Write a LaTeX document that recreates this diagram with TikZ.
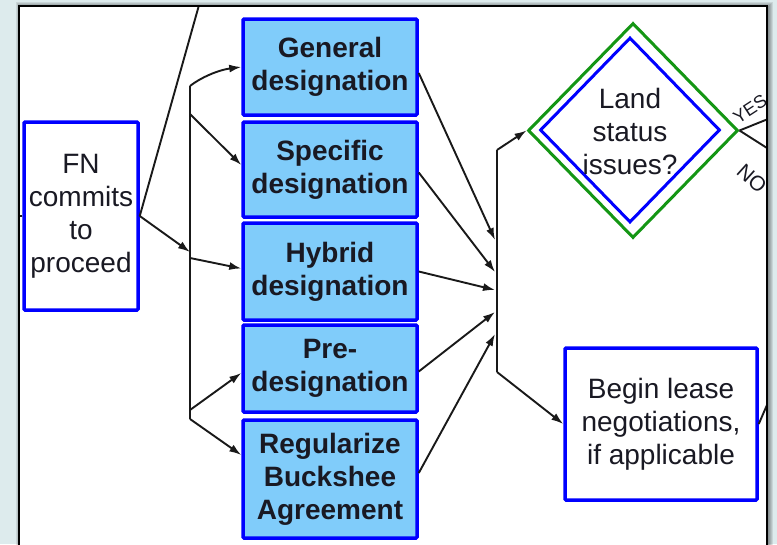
\documentclass[tikz,border=0pt]{standalone}
\usepackage{fontspec}
\setmainfont{Liberation Sans}
\usetikzlibrary{shapes.geometric,arrows.meta}
\definecolor{pagebg}{RGB}{221,235,237}
\definecolor{boxfill}{RGB}{128,204,250}
\definecolor{edgeblue}{RGB}{0,0,255}
\definecolor{edgegreen}{RGB}{20,150,20}
\definecolor{inkdark}{RGB}{25,25,35}

\begin{document}
\begin{tikzpicture}[x=1pt,y=-1pt,
  txt/.style={font=\fontsize{28}{33}\selectfont, text=inkdark, align=center, inner sep=0pt},
  plainbox/.style={txt, rectangle, draw=edgeblue, line width=3.5pt, fill=white, rounded corners=1pt},
  optbox/.style={plainbox, fill=boxfill, font=\fontsize{28}{33}\selectfont\bfseries, minimum width=174pt},
  conn/.style={line width=1.9pt, draw=black!90},
  arr/.style={conn, -{Latex[length=12pt,width=8pt]}},
  tag/.style={text=inkdark, inner sep=0pt},
]
% page and framed panel
\path[use as bounding box, fill=pagebg] (0,0) rectangle (777,544);
\foreach \k in {1,...,6}
  \fill[black, opacity=0.09] (19-\k+3,6-\k+2) rectangle (767+\k,560);
\fill[white] (19,6) rectangle (767,560);

\begin{scope}
\clip (19,6) rectangle (767,560);

% start box
\node[plainbox, minimum width=114pt, minimum height=188pt] (fn) at (81,216) {FN\\commits\\to\\proceed};

% designation options
\node[optbox, minimum height=96pt]  (gen)  at (330,67)    {General\\designation};
\node[optbox, minimum height=95pt]  (spec) at (330,169.5) {Specific\\designation};
\node[optbox, minimum height=97pt]  (hyb)  at (330,271.5) {Hybrid\\designation};
\node[optbox, minimum height=87pt]  (pre)  at (330,368.5) {Pre-\\designation};
\node[optbox, minimum height=118pt] (reg)  at (330,479)   {Regularize\\Buckshee\\Agreement};

% decision
\node[diamond, draw=edgegreen, line width=3pt, minimum width=210pt, minimum height=215pt, inner sep=0pt] (landout) at (633,130.5) {};
\node[diamond, draw=edgeblue, line width=3pt, minimum width=180pt, minimum height=185pt, inner sep=0pt] (land) at (630,130) {};
\node[txt] (landtxt) at (630,131) {Land\\status\\issues?};

% lease box
\node[plainbox, minimum width=192pt, minimum height=152pt] (lease) at (661,424) {Begin lease\\negotiations,\\if applicable};

% left distribution trunk
\coordinate (lt) at (190,86);
\coordinate (lb) at (190,419);
\coordinate (ljfn) at (190,252);
\coordinate (ljspec) at (190,114);
\coordinate (ljhyb) at (190,258);
\coordinate (ljpre) at (190,410);
\draw[conn] (lt) -- (lb);

% right collecting trunk
\coordinate (rt) at (497,150);
\coordinate (rb) at (497,372);
\coordinate (r1) at (495,240);
\coordinate (r2) at (495,272);
\coordinate (r3) at (495,290);
\coordinate (r4) at (495,312);
\coordinate (r5) at (495,334);
\draw[conn] (rt) -- (rb);

% connectors around the start box
\coordinate (upexit) at (201,-2);
\coordinate (leftexit) at (8,216);
\draw[conn] (fn.east) -- (upexit);
\draw[conn] (fn.west) -- (leftexit);
\draw[arr] (fn.east) -- (ljfn);

% trunk to options
\draw[arr] (lt) .. controls (200,78) and (218,70) .. (gen.west);
\draw[arr] (ljspec) -- ([yshift=4.5pt]spec.west);
\draw[arr] (ljhyb) -- ([yshift=3pt]hyb.west);
\draw[arr] (ljpre) -- ([yshift=-4.5pt]pre.west);
\draw[arr] (lb) -- ([yshift=24pt]reg.west);

% options to right trunk
\draw[arr] ([yshift=-6pt]gen.east) -- (r1);
\draw[arr] ([yshift=-3pt]spec.east) -- (r2);
\draw[arr] (hyb.east) -- (r3);
\draw[arr] ([yshift=-3pt]pre.east) -- (r4);
\draw[arr] ([yshift=6pt]reg.east) -- (r5);

% right trunk to decision and lease
\draw[arr] (rt) -- (landout.west);
\draw[arr] (rb) -- (lease.west);

% decision outcomes
\coordinate (yesend) at (778,115);
\coordinate (noend) at (778,155);
\draw[conn] (landout.east) -- (yesend);
\draw[conn] (landout.east) -- (noend);
\node[tag, font=\fontsize{18}{18}\selectfont, rotate=33] (yes) at (750,109) {YES};
\node[tag, font=\fontsize{21}{21}\selectfont, rotate=-42] (no) at (752,179) {NO};

% lease continuation
\coordinate (leaseexit) at (770,398);
\draw[conn] (lease.east) -- (leaseexit);
\end{scope}

% panel frame
\draw[black, line width=2pt] (19,6) rectangle (767,560);
\end{tikzpicture}
\end{document}
